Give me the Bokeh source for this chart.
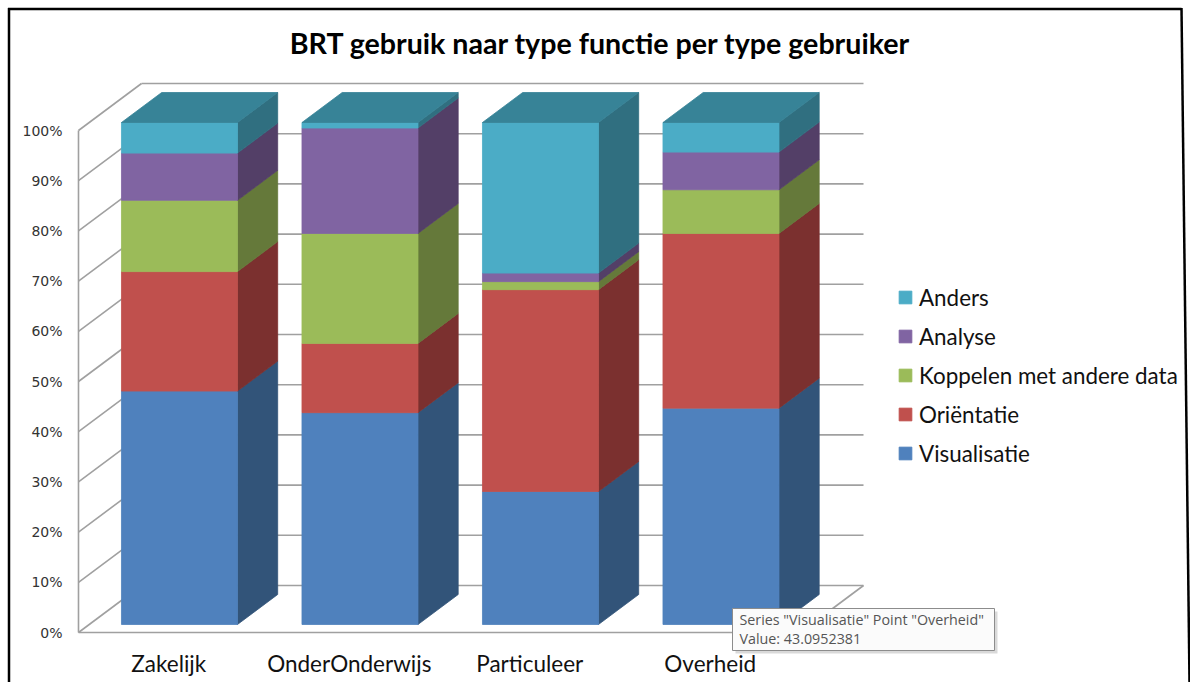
from bokeh.plotting import figure
from bokeh.models import Range1d, Legend, LegendItem
from bokeh.core.properties import value
from bokeh.embed import file_html
from bokeh.resources import INLINE

# ---------------- data ----------------
title = "BRT gebruik naar type functie per type gebruiker"
categories = ["Zakelijk", "OnderOnderwijs", "Particuleer", "Overheid"]
series = ["Visualisatie", "Oriëntatie", "Koppelen met andere data", "Analyse", "Anders"]
visualisatie = [46.5, 42.2, 26.5, 43.0952381]
orientatie = [23.8, 13.8, 40.2, 34.8]
koppelen = [14.2, 21.9, 1.6, 8.7]
analyse = [9.4, 21.0, 1.7, 7.5]
anders = [6.1, 1.1, 30.0, 5.9]
y_ticks = [0, 10, 20, 30, 40, 50, 60, 70, 80, 90, 100]
y_tick_labels = [f"{t}%" for t in y_ticks]
tooltip_series = "Visualisatie"
tooltip_point = "Overheid"
tooltip_value = visualisatie[3]

values = [visualisatie, orientatie, koppelen, analyse, anders]
front_colors = ["#4F81BD", "#C0504D", "#9BBB59", "#8064A2", "#4BACC6"]
side_colors = ["#325479", "#7B302F", "#65793A", "#533F67", "#306F80"]
top_color = "#378397"

# ---------------- geometry (page pixels -> data units) ----------------
W, H = 1190, 682
OX, OY = 0, 0                 # page position of the figure
FX0, CAT_PX = 78.0, 180.5     # front plane: category 0 starts at page x 78
FY0, PCT_PX = 632.0, 5.02     # front plane: 0% at page y 632


def dx(page_x):
    return (page_x - FX0) / CAT_PX


def dy(page_y):
    return (FY0 - page_y) / PCT_PX


DX = 63.0 / CAT_PX   # full depth offset
DY = 47.0 / PCT_PX
GAP = (CAT_PX - 116.0) / 2 / CAT_PX
BW = 116.0 / CAT_PX
D0, D1 = 8.0 / 47.0, 38.0 / 47.0
n = len(categories)

p = figure(width=W, height=H, x_range=Range1d(dx(OX), dx(OX + W)),
           y_range=Range1d(dy(OY + H), dy(OY)), output_backend="svg",
           toolbar_location=None, min_border=0,
           x_axis_location=None, y_axis_location=None)
p.grid.visible = False
p.outline_line_color = None
p.background_fill_color = "white"
p.border_fill_color = "white"

GRID = "#a0a0a0"
# back wall gridlines
p.multi_line(xs=[[DX, n + DX] for t in y_ticks], ys=[[t + DY, t + DY] for t in y_ticks],
             line_color=GRID, line_width=1.6)
# left wall diagonals
p.multi_line(xs=[[0, DX] for t in y_ticks], ys=[[t, t + DY] for t in y_ticks],
             line_color=GRID, line_width=1.6)
# left wall front edge, floor front and right edges
p.multi_line(xs=[[0, 0], [0, n], [n, n + DX]], ys=[[0, 100], [0, 0], [0, DY]],
             line_color=GRID, line_width=1.6)

# ---------------- stacked 3D bars ----------------
totals = [sum(v[i] for v in values) for i in range(n)]
cum = [0.0] * n
front_renderers = []
for k, vals in enumerate(values):
    lefts, rights, bottoms, tops = [], [], [], []
    sxs, sys_ = [], []
    for i in range(n):
        v0 = cum[i]
        v1 = v0 + vals[i] / totals[i] * 100.0
        cum[i] = v1
        xl = i + GAP
        xr = xl + BW
        lefts.append(xl + D0 * DX)
        rights.append(xr + D0 * DX)
        bottoms.append(v0 + D0 * DY)
        tops.append(v1 + D0 * DY)
        sxs.append([xr + D0 * DX, xr + D1 * DX, xr + D1 * DX, xr + D0 * DX])
        sys_.append([v0 + D0 * DY, v0 + D1 * DY, v1 + D1 * DY, v1 + D0 * DY])
    p.patches(xs=sxs, ys=sys_, fill_color=side_colors[k], line_color=side_colors[k], line_width=0.8)
    r = p.quad(left=lefts, right=rights, bottom=bottoms, top=tops,
               fill_color=front_colors[k], line_color=front_colors[k], line_width=0.8)
    front_renderers.append(r)

# top faces
txs, tys = [], []
for i in range(n):
    xl = i + GAP
    xr = xl + BW
    txs.append([xl + D0 * DX, xr + D0 * DX, xr + D1 * DX, xl + D1 * DX])
    tys.append([100 + D0 * DY, 100 + D0 * DY, 100 + D1 * DY, 100 + D1 * DY])
p.patches(xs=txs, ys=tys, fill_color=top_color, line_color=top_color, line_width=0.8)

# ---------------- texts ----------------
p.text(x=[dx(62)] * len(y_ticks), y=y_ticks, text=y_tick_labels,
       text_font=value("DejaVu Sans"), text_font_size=value("14px"),
       text_color="#333333", text_align="right", text_baseline="middle")

p.text(x=[i + 0.5 for i in range(n)], y=[dy(663)] * n, text=categories,
       text_font=value("Lato"), text_font_size=value("22.5px"),
       text_color="#111111", text_align="center", text_baseline="middle")

p.text(x=[dx(600)], y=[dy(42)], text=[title],
       text_font=value("Lato"), text_font_size=value("28.6px"), text_font_style="bold",
       text_color="#000000", text_align="center", text_baseline="middle")

# ---------------- legend ----------------
items = [LegendItem(label=series[k], renderers=[front_renderers[k]]) for k in reversed(range(len(series)))]
legend = Legend(items=items, location=(897, H - 467), orientation="vertical",
                glyph_width=16, glyph_height=16, label_height=28, spacing=11,
                label_standoff=6, padding=0, margin=0,
                border_line_alpha=0, background_fill_alpha=0,
                label_text_font="Lato", label_text_font_size="22.4px",
                label_text_color="#111111")
p.add_layout(legend)

# ---------------- tooltip box ----------------
p.quad(left=[dx(735)], right=[dx(997)], top=[dy(611)], bottom=[dy(653)],
       fill_color="#000000", fill_alpha=0.15, line_color=None)
p.quad(left=[dx(732)], right=[dx(994)], top=[dy(608)], bottom=[dy(650)],
       fill_color="#fbfbfb", line_color="#8c8c8c", line_width=1)
p.text(x=[dx(739), dx(739)], y=[dy(619), dy(638)],
       text=[f'Series "{tooltip_series}" Point "{tooltip_point}"', f"Value: {tooltip_value}"],
       text_font=value("Open Sans"), text_font_size=value("14.3px"),
       text_color="#555555", text_align="left", text_baseline="middle")

# ---------------- outer frame ----------------
p.multi_line(xs=[[dx(8.5), dx(8.5)], [dx(7.5), dx(1181)], [dx(1181), dx(1189)]],
             ys=[[dy(7.5), dy(OY + H)], [dy(8.5), dy(8.5)], [dy(7.5), dy(OY + H)]],
             line_color="#000000", line_width=2.5)

open("out.html", "w").write(file_html(p, INLINE))
